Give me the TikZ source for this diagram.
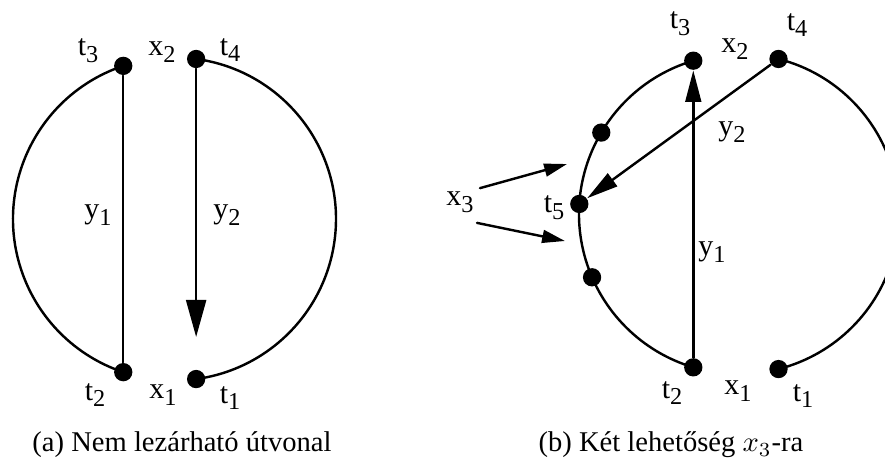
\documentclass[tikz,border=0pt]{standalone}
\usepackage{fontspec}
\setmainfont{Liberation Serif}
\usetikzlibrary{arrows.meta}
\newcommand{\lab}[2]{#1\raisebox{-0.5ex}{\fontsize{8.5}{8.5}\selectfont#2}}

\begin{document}
\begin{tikzpicture}[x=0.35pt,y=0.35pt,line cap=round,line join=round,
  dot/.style={circle,fill,inner sep=0pt,minimum size=6.4pt},
  lbl/.style={font=\fontsize{10.5}{12}\selectfont,inner sep=1pt},
  captext/.style={font=\fontsize{10}{12}\selectfont,inner sep=0pt},
  edge/.style={line width=0.85pt},
  bigarrow/.style={edge,-{Triangle[length=13pt,width=7pt]}},
  midarrow/.style={edge,-{Triangle[length=11pt,width=5.5pt]}},
  smallarrow/.style={edge,-{Triangle[length=8pt,width=4.5pt]}}]
  \useasboundingbox (0,0) rectangle (885,-464);
  % (a) path that cannot be closed
  \coordinate (ca) at (174.5,-219);
  \node[dot] (a3) at ([shift={(108.5:161.5)}]ca) {};
  \node[dot] (a2) at ([shift={(251.5:161.5)}]ca) {};
  \node[dot] (a4) at ([shift={(82.3:161.5)}]ca) {};
  \node[dot] (a1) at ([shift={(-82.3:161.5)}]ca) {};
  \draw[edge] (a3.center) arc[start angle=108.5,end angle=251.5,radius=161.5];
  \draw[edge] (a4.center) arc[start angle=82.3,end angle=-82.3,radius=161.5];
  \draw[edge] (a3) -- (a2);
  \coordinate (atip) at (a4 |- 0,-337);
  \draw[bigarrow] (a4) -- (atip);
  \node[lbl] (la3) at (88,-51) {\lab{t}{3}};
  \node[lbl] (lax2) at (162,-52) {\lab{x}{2}};
  \node[lbl] (la4) at (230,-50) {\lab{t}{4}};
  \node[lbl] (lay1) at (98,-215) {\lab{y}{1}};
  \node[lbl] (lay2) at (227,-215) {\lab{y}{2}};
  \node[lbl] (la2) at (95,-395) {\lab{t}{2}};
  \node[lbl] (lax1) at (163,-395) {\lab{x}{1}};
  \node[lbl] (la1) at (230,-398) {\lab{t}{1}};
  \node[captext] (capa) at (182,-445) {(a) Nem lezárható útvonal};
  % (b) two choices for x3
  \coordinate (cb) at (739,-214);
  \node[dot] (b3) at ([shift={(106.6:160)}]cb) {};
  \node[dot] (b2) at ([shift={(253.4:160)}]cb) {};
  \node[dot] (b4) at ([shift={(75.7:160)}]cb) {};
  \node[dot] (b1) at ([shift={(-75.7:160)}]cb) {};
  \node[dot] (b5) at ([shift={(176.4:160)}]cb) {};
  \node[dot] (bu) at ([shift={(149.4:160)}]cb) {};
  \node[dot] (bl) at ([shift={(203.3:160)}]cb) {};
  \draw[edge] (b3.center) arc[start angle=106.6,end angle=253.4,radius=160];
  \draw[edge] (b4.center) arc[start angle=75.7,end angle=-75.7,radius=160];
  \draw[midarrow] (b2) -- (b3);
  \draw[midarrow] (b4) -- (b5);
  \node[lbl] (lb3) at (680,-24) {\lab{t}{3}};
  \node[lbl] (lbx2) at (735,-49) {\lab{x}{2}};
  \node[lbl] (lb4) at (797,-25) {\lab{t}{4}};
  \node[lbl] (lby2) at (732,-132) {\lab{y}{2}};
  \node[lbl] (lbx3) at (460,-202) {\lab{x}{3}};
  \node[lbl] (lb5) at (554,-208) {\lab{t}{5}};
  \node[lbl] (lby1) at (712,-252) {\lab{y}{1}};
  \node[lbl] (lb2) at (672,-393) {\lab{t}{2}};
  \node[lbl] (lbx1) at (738,-391) {\lab{x}{1}};
  \node[lbl] (lb1) at (803,-396) {\lab{t}{1}};
  \coordinate (xup) at (567,-164);
  \coordinate (xdown) at (565,-241);
  \draw[smallarrow] ([shift={(3,0)}]lbx3.north east) -- (xup);
  \draw[smallarrow] ([shift={(0,-7)}]lbx3.south east) -- (xdown);
  \node[captext] (capb) at (671,-445) {(b) Két lehetőség $x_3$-ra};
\end{tikzpicture}
\end{document}
